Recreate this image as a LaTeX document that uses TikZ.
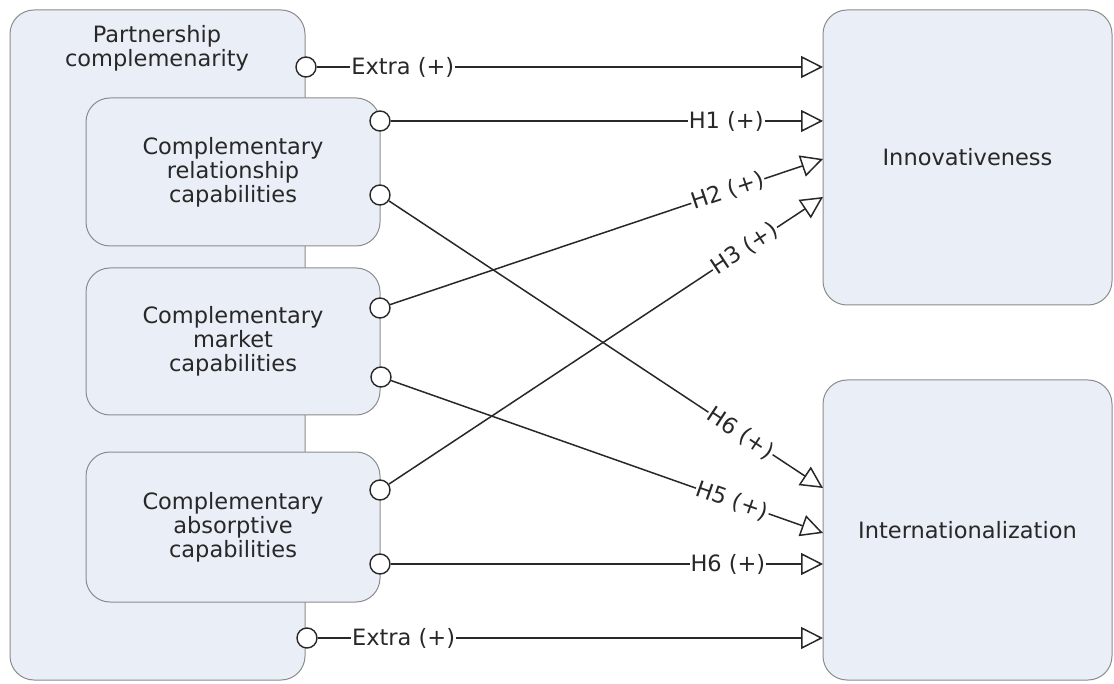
\documentclass[tikz,border=0pt]{standalone}
\usepackage{fontspec}
\setmainfont{DejaVu Sans}
\usetikzlibrary{arrows.meta}
\definecolor{boxfill}{RGB}{234,238,247}
\definecolor{boxline}{RGB}{140,140,140}
\definecolor{ink}{RGB}{40,40,40}
\begin{document}
\begin{tikzpicture}[x=1pt,y=-1pt,
  box/.style={draw=boxline, fill=boxfill, line width=1pt, rounded corners=24pt, inner sep=0pt},
  txt/.style={align=center, font=\fontsize{22.5}{24}\selectfont, text=ink},
  port/.style={circle, draw=ink, fill=white, line width=1.4pt, minimum size=20pt, inner sep=0pt},
  link/.style={draw=ink, line width=1.5pt, -{Triangle[open, length=22pt, width=22pt, fill=white]}},
  lab/.style={fill=white, inner sep=1pt, sloped, font=\fontsize{22.5}{24}\selectfont, text=ink}]
\useasboundingbox (0,0) rectangle (1114,684);
% boxes
\node[box, minimum width=295pt, minimum height=670pt] (outer) at (157.5,345) {};
\node[txt] (outertxt) at (157,48) {Partnership\\complemenarity};
\node[box, txt, minimum width=294pt, minimum height=148pt] (rel) at (233,172) {Complementary\\relationship\\capabilities};
\node[box, txt, minimum width=294pt, minimum height=147pt] (mkt) at (233,341.5) {Complementary\\market\\capabilities};
\node[box, txt, minimum width=294pt, minimum height=150pt] (abs) at (233,527) {Complementary\\absorptive\\capabilities};
\node[box, txt, minimum width=289pt, minimum height=295pt] (inn) at (967.5,157.5) {Innovativeness};
\node[box, txt, minimum width=289pt, minimum height=300pt] (int) at (967.5,530) {Internationalization};
% ports
\node[port] (p0) at (306,67) {};
\node[port] (r1) at (380,121) {};
\node[port] (r2) at (380,195) {};
\node[port] (m1) at (380,308) {};
\node[port] (m2) at (381,377) {};
\node[port] (a1) at (380,490) {};
\node[port] (a2) at (380,564) {};
\node[port] (p1) at (307,638) {};
% targets
\coordinate (i0) at (823,67);
\coordinate (i1) at (823,121);
\coordinate (i2) at (823,159);
\coordinate (i3) at (823,197);
\coordinate (t6) at (823,488);
\coordinate (t5) at (823,533);
\coordinate (t7) at (823,564);
\coordinate (t0) at (823,638);
% links
\draw[link] (p0) -- node[lab, pos=0.17] {Extra (+)} (i0);
\draw[link] (r1) -- node[lab, pos=0.776] {H1 (+)} (i1);
\draw[link] (m1) -- node[lab, pos=0.78] {H2 (+)} (i2);
\draw[link] (a1) -- node[lab, pos=0.82] {H3 (+)} (i3);
\draw[link] (r2) -- node[lab, pos=0.81] {H6 (+)} (t6);
\draw[link] (m2) -- node[lab, pos=0.79] {H5 (+)} (t5);
\draw[link] (a2) -- node[lab, pos=0.78] {H6 (+)} (t7);
\draw[link] (p1) -- node[lab, pos=0.17] {Extra (+)} (t0);
\end{tikzpicture}
\end{document}
